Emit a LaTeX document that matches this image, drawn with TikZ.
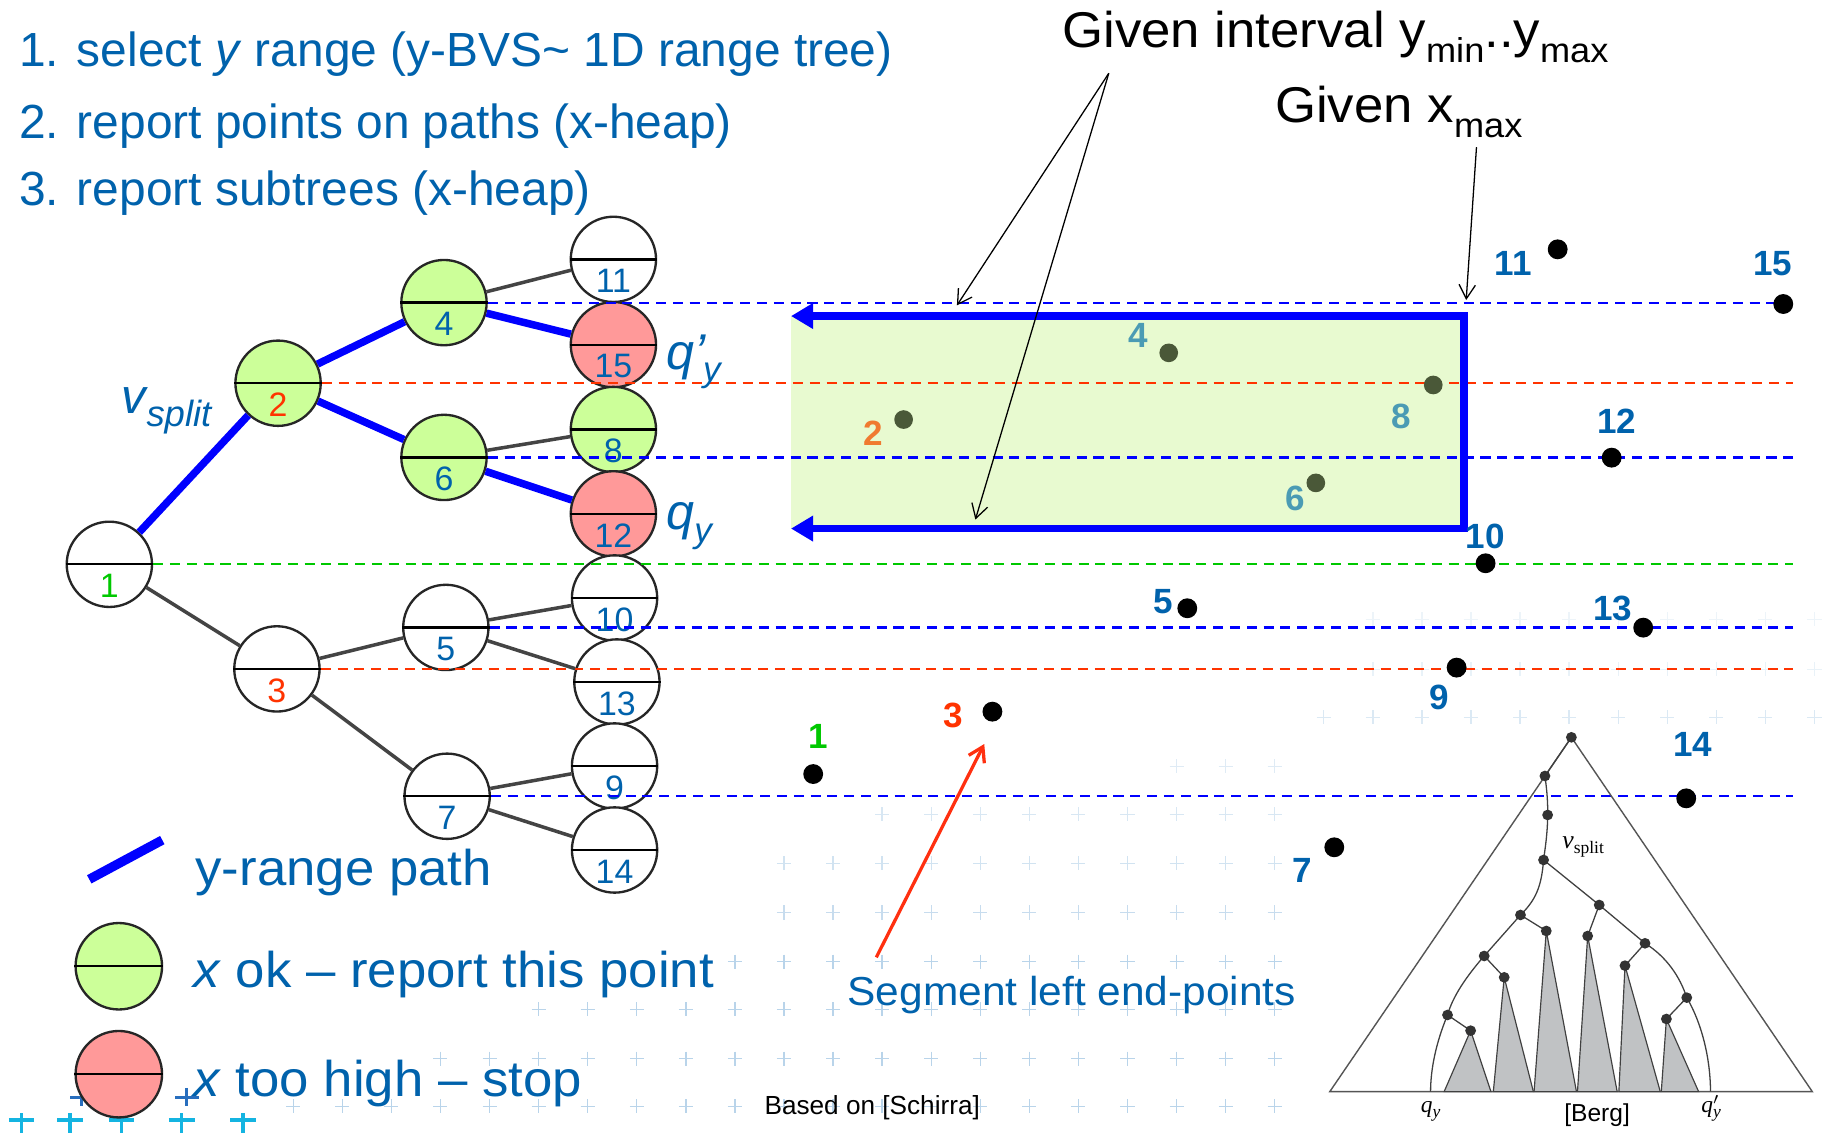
\documentclass[tikz,border=0pt]{standalone}
\usepackage{fontspec}
\setmainfont{Liberation Sans}
\newfontfamily\widesans[FakeStretch=1.05]{Liberation Sans}
\newfontfamily\bergserif{Liberation Serif}
\usetikzlibrary{arrows.meta}

\definecolor{txtblue}{RGB}{0,98,172}
\definecolor{pathblue}{RGB}{0,0,255}
\definecolor{okgreen}{RGB}{204,255,153}
\definecolor{stopred}{RGB}{255,153,153}
\definecolor{edgegray}{RGB}{68,68,68}
\definecolor{keyred}{RGB}{255,51,0}
\definecolor{keygreen}{RGB}{0,200,0}
\definecolor{boxfill}{RGB}{232,250,208}
\definecolor{olivedot}{RGB}{74,88,56}
\definecolor{ptteal}{RGB}{75,155,180}
\definecolor{ptorange}{RGB}{240,122,48}
\definecolor{arrred}{RGB}{255,48,16}
\definecolor{bergline}{RGB}{85,85,85}
\definecolor{bergfill}{RGB}{192,194,196}
\definecolor{wmark}{RGB}{185,212,234}
\definecolor{crosscyan}{RGB}{20,180,225}
\definecolor{crossblue}{RGB}{40,110,190}

% one tree node: name, x, y, fill, key, key colour
\newcommand\tnode[6]{%
  \node[treenode, fill=#4] (#1) at (#2,#3) {};
  \draw[line width=1pt] (#1.west) -- (#1.east);
  \node[numlabel, text=#6] (#1num) at ([yshift=-9.25pt]#1.center) {#5};
}
% one faint background cross
\newcommand\wmcross[3]{%
  \draw[wmark, line width=0.6pt, opacity=#3] (#1,#2) ++(-6,0) -- ++(12,0) ++(-6,-6) -- ++(0,12);
}

\begin{document}
\begin{tikzpicture}[x=0.5pt,y=-0.5pt,
  treenode/.style={circle, draw=black!85, line width=1pt, minimum size=36.5pt, inner sep=0pt},
  numlabel/.style={font=\fontsize{14.5}{16}\selectfont, inner sep=0pt},
  ptlabel/.style={font=\bfseries\fontsize{15}{17}\selectfont, text=txtblue, inner sep=0pt},
  dot/.style={circle, fill=black, minimum size=8.5pt, inner sep=0pt},
  boxdot/.style={circle, fill=olivedot, minimum size=8pt, inner sep=0pt},
  dashline/.style={line width=0.95pt, dash pattern=on 4.3pt off 2.9pt},
  grayedge/.style={draw=edgegray, line width=1.5pt},
  rangeedge/.style={draw=pathblue, line width=3.2pt},
  thinarrow/.style={draw=black, line width=0.55pt, -{Straight Barb[length=6pt,width=7pt]}},
  bigtext/.style={font=\widesans\fontsize{21.5}{24}\selectfont, inner sep=0pt, anchor=base west},
  steptext/.style={font=\fontsize{20.5}{24}\selectfont, text=txtblue, inner sep=0pt, anchor=base west},
  bergdot/.style={fill=black!80},
  bergtree/.style={fill=bergfill, draw=black!75, line width=0.5pt},
  bergedge/.style={draw=black!75, line width=0.55pt}
]
\useasboundingbox (0,0) rectangle (1568,969);
\clip (0,0) rectangle (1568,969);
\fill[white] (0,0) rectangle (1568,969);

% ---------- faint background crosses ----------
\foreach \yy/\xs/\op in {656/1007/0.45, 697/755/0.55, 739/671/0.65, 781/671/0.8,
                         823/629/1, 864/461/1, 906/377/1, 947/251/1} {
  \foreach \k in {0,...,20} {
    \pgfmathsetmacro\xx{1091-42*\k}
    \ifdim\xx pt<\xs pt\relax\else\wmcross{\xx}{\yy}{\op}\fi
  }
}
\foreach \xx in {1133,1175,...,1553} {\wmcross{\xx}{614}{0.5}}
\foreach \xx in {1175,1217,...,1553} {\wmcross{\xx}{573}{0.3}\wmcross{\xx}{530}{0.25}}

% cyan crosses along the lower left edge
\foreach \xx in {18.5,60,104,155.5,208} {
  \draw[crosscyan, line width=1.5pt] (\xx,958.6) ++(-11,0) -- ++(22,0) ++(-11,-6) -- ++(0,20);
}
\foreach \xx in {70,160} {
  \draw[crossblue, line width=1.3pt] (\xx,939) ++(-10,0) -- ++(20,0) ++(-10,-8) -- ++(0,16);
}

% ---------- query box ----------
\coordinate (boxTL) at (677,270.5);
\coordinate (boxTR) at (1253,270.5);
\coordinate (boxBR) at (1253,452.4);
\coordinate (boxBL) at (677,452.4);
\fill[boxfill] (boxTL) rectangle (boxBR);

% ---------- tree ----------
\tnode{n1}{93.6}{483}{white}{1}{keygreen}
\tnode{n2}{238}{328}{okgreen}{2}{keyred}
\tnode{n3}{237}{572.5}{white}{3}{keyred}
\tnode{n4}{380}{259}{okgreen}{4}{txtblue}
\tnode{n6}{380}{391.5}{okgreen}{6}{txtblue}
\tnode{n5}{381.6}{537}{white}{5}{txtblue}
\tnode{n7}{382.7}{681.5}{white}{7}{txtblue}
\tnode{n11}{525}{222}{white}{11}{txtblue}
\tnode{n15}{525}{295}{stopred}{15}{txtblue}
\tnode{n8}{525}{367.6}{okgreen}{8}{txtblue}
\tnode{n12}{525}{439.8}{stopred}{12}{txtblue}
\tnode{n10}{526}{511.8}{white}{10}{txtblue}
\tnode{n13}{528}{583.7}{white}{13}{txtblue}
\tnode{n9}{526}{655.6}{white}{9}{txtblue}
\tnode{n14}{526}{727.5}{white}{14}{txtblue}

% key lines running across the plane
\coordinate (dashend) at (1535,0);
\draw[dashline, pathblue] (n4.east) -- (n4.east -| dashend);
\draw[dashline, keyred] (n2.east) -- (n2.east -| dashend);
\draw[dashline, pathblue] (n6.east) -- (n6.east -| dashend);
\draw[dashline, keygreen] (n1.east) -- (n1.east -| dashend);
\draw[dashline, pathblue] (n5.east) -- (n5.east -| dashend);
\draw[dashline, keyred] (n3.east) -- (n3.east -| dashend);
\draw[dashline, pathblue] (n7.east) -- (n7.east -| dashend);

% tree edges
\draw[rangeedge] (n1) -- (n2);
\draw[rangeedge] (n2) -- (n4);
\draw[rangeedge] (n4) -- (n15);
\draw[rangeedge] (n2) -- (n6);
\draw[rangeedge] (n6) -- (n12);
\draw[grayedge] (n4) -- (n11);
\draw[grayedge] (n6) -- (n8);
\draw[grayedge] (n1) -- (n3);
\draw[grayedge] (n3) -- (n5);
\draw[grayedge] (n3) -- (n7);
\draw[grayedge] (n5) -- (n10);
\draw[grayedge] (n5) -- (n13);
\draw[grayedge] (n7) -- (n9);
\draw[grayedge] (n7) -- (n14);

\node[inner sep=0pt, anchor=base west, text=txtblue] (vsplit) at (104,353.7)
  {\fontsize{21}{24}\selectfont\itshape v\raisebox{-5.6pt}{\fontsize{15.6}{18}\selectfont split}};
\node[inner sep=0pt, anchor=base west, text=txtblue] (qyprime) at (570,316.3)
  {\fontsize{21.5}{24}\selectfont\itshape q’\kern-1pt\raisebox{-5pt}{\fontsize{15}{18}\selectfont y}};
\node[inner sep=0pt, anchor=base west, text=txtblue] (qy) at (570,453)
  {\fontsize{21.5}{24}\selectfont\itshape q\raisebox{-5.5pt}{\fontsize{15}{18}\selectfont y}};

% box outline with its open left side
\draw[pathblue, line width=3.3pt, line join=miter,
      {Triangle[length=9.5pt,width=10.5pt]}-{Triangle[length=9.5pt,width=10.5pt]}]
  (boxTL) -- (boxTR) -- (boxBR) -- (boxBL);

% ---------- points ----------
\node[boxdot] (p4) at (1000.3,302) {};
\node[boxdot] (p8) at (1226.7,329.5) {};
\node[boxdot] (p2) at (773.4,359.1) {};
\node[boxdot] (p6) at (1126.2,413.3) {};
\node[ptlabel, text=ptteal] (l4) at (974,287.3) {4};
\node[ptlabel, text=ptteal] (l8) at (1199.3,356) {8};
\node[ptlabel, text=ptorange] (l2) at (747,370.5) {2};
\node[ptlabel, text=ptteal] (l6) at (1108.6,426.4) {6};

\node[dot] (p11) at (1333.2,213.4) {};
\node[dot] (p15) at (1526.3,260.2) {};
\node[dot] (p12) at (1379.4,391.7) {};
\node[dot] (p10) at (1271.5,482.1) {};
\node[dot] (p5) at (1016.2,520.6) {};
\node[dot] (p13) at (1406.4,537.2) {};
\node[dot] (p9) at (1246.7,571.4) {};
\node[dot] (p3) at (849.4,609.1) {};
\node[dot] (p1) at (696,662.5) {};
\node[dot] (p14) at (1443.2,683.3) {};
\node[dot] (p7) at (1142,725.2) {};
\node[ptlabel] (l11) at (1295.2,225.4) {11};
\node[ptlabel] (l15) at (1517.2,225.4) {15};
\node[ptlabel] (l12) at (1383.7,360.3) {12};
\node[ptlabel] (l10) at (1271,459.3) {10};
\node[ptlabel] (l5) at (995.4,515) {5};
\node[ptlabel] (l13) at (1380.3,520.6) {13};
\node[ptlabel] (l9) at (1232,597) {9};
\node[ptlabel, text=keyred] (l3) at (816,612) {3};
\node[ptlabel, text=keygreen] (l1) at (700,630.5) {1};
\node[ptlabel] (l14) at (1449,636.8) {14};
\node[ptlabel] (l7) at (1114.4,745.2) {7};

% ---------- texts ----------
\node[steptext] (s1) at (16,57) {1. select \textit{y} range (y-BVS\textasciitilde{} 1D range tree)};
\node[steptext] (s2) at (16,118.5) {2. report points on paths (x-heap)};
\node[steptext] (s3) at (16,175.5) {3. report subtrees (x-heap)};

\node[bigtext] (yrange) at (909,41)
  {Given interval y\raisebox{-6.25pt}{\fontsize{14.75}{16}\selectfont min}..y\raisebox{-6.25pt}{\fontsize{14.75}{16}\selectfont max}};
\node[bigtext] (xmax) at (1091,105)
  {Given x\raisebox{-6.25pt}{\fontsize{14.75}{16}\selectfont max}};

\coordinate (gA) at (949,62.7);
\coordinate (gT1) at (819,261.4);
\coordinate (gT2) at (834.8,444.7);
\coordinate (xA) at (1263.7,126);
\coordinate (xT) at (1254.9,256.8);
\draw[thinarrow] (gA) -- (gT1);
\draw[thinarrow] (gA) -- (gT2);
\draw[thinarrow] (xA) -- (xT);

\node[inner sep=0pt, anchor=base west, text=txtblue, font=\widesans\fontsize{17.3}{20}\selectfont]
  (seglabel) at (725,861) {Segment left end-points};
\coordinate (segA) at (750,819.4);
\coordinate (segT) at (842.4,636.8);
\draw[arrred, line width=1.4pt, -{Straight Barb[length=6pt,width=7.5pt]}] (segA) -- (segT);

\node[inner sep=0pt, anchor=base west, font=\fontsize{11.2}{13}\selectfont] (schirra) at (654,954)
  {Based on [Schirra]};

% ---------- legend ----------
\coordinate (lgA) at (76.4,752.6);
\coordinate (lgB) at (138.9,719);
\draw[pathblue, line width=4pt] (lgA) -- (lgB);
\node[bigtext, text=txtblue] (lgpath) at (167,757.5) {y-range path};
\node[treenode, fill=okgreen, minimum size=37pt] (lgok) at (101.7,827) {};
\draw[line width=1pt] (lgok.west) -- (lgok.east);
\node[bigtext, text=txtblue] (lgoktext) at (165,845) {\textit{x} ok – report this point};
\node[treenode, fill=stopred, minimum size=37pt] (lgstop) at (101.7,919.4) {};
\draw[line width=1pt] (lgstop.west) -- (lgstop.east);
\node[bigtext, text=txtblue] (lgstoptext) at (165,938.6) {\textit{x} too high – stop};

% ---------- reference sketch of the query tree ----------
\begin{scope}[shift={(1112.6,599.1)}, xscale=0.2904, yscale=0.2853]
  \coordinate (bA) at (800,112);
  \coordinate (bB) at (722,228);
  \coordinate (bC) at (730,345);
  \coordinate (bD) at (718,480);
  \coordinate (bE) at (650,645);
  \coordinate (bF) at (882,615);
  \coordinate (bG) at (726,693);
  \coordinate (bH) at (543,768);
  \coordinate (bI) at (848,708);
  \coordinate (bJ) at (1017,730);
  \coordinate (bK) at (602,832);
  \coordinate (bL) at (435,945);
  \coordinate (bM) at (958,797);
  \coordinate (bN) at (1140,893);
  \coordinate (bO) at (503,992);
  \coordinate (bP) at (1080,957);
  \coordinate (bQ) at (385,1175);
  \coordinate (bQp) at (1210,1175);
  \coordinate (bLeft) at (88,1175);
  \coordinate (bRight) at (1510,1175);

  \draw[draw=bergline, line width=0.6pt] (bA) -- (bLeft) -- (bRight) -- cycle;

  \filldraw[bergtree] (bO) -- (425,1175) -- (563,1175) -- cycle;
  \filldraw[bergtree] (bK) -- (570,1175) -- (688,1175) -- cycle;
  \filldraw[bergtree] (bG) -- (690,1175) -- (815,1175) -- cycle;
  \filldraw[bergtree] (bI) -- (818,1175) -- (935,1175) -- cycle;
  \filldraw[bergtree] (bM) -- (940,1175) -- (1062,1175) -- cycle;
  \filldraw[bergtree] (bP) -- (1065,1175) -- (1175,1175) -- cycle;

  \draw[bergedge] (bA) -- (bB);
  \draw[bergedge] (bB) .. controls (728,270) and (731,310) .. (bC);
  \draw[bergedge] (bC) .. controls (730,400) and (722,450) .. (bD);
  \draw[bergedge] (bD) .. controls (712,560) and (695,600) .. (bE);
  \draw[bergedge] (bD) -- (bF);
  \draw[bergedge] (bE) -- (bG);
  \draw[bergedge] (bE) -- (bH);
  \draw[bergedge] (bF) -- (bI);
  \draw[bergedge] (bF) -- (bJ);
  \draw[bergedge] (bH) -- (bK);
  \draw[bergedge] (bH) .. controls (490,830) and (450,890) .. (bL);
  \draw[bergedge] (bL) -- (bO);
  \draw[bergedge] (bL) .. controls (400,1030) and (385,1110) .. (bQ);
  \draw[bergedge] (bJ) -- (bM);
  \draw[bergedge] (bJ) .. controls (1080,770) and (1120,830) .. (bN);
  \draw[bergedge] (bN) -- (bP);
  \draw[bergedge] (bN) .. controls (1190,980) and (1210,1090) .. (bQp);

  \foreach \p in {bA,bB,bC,bD,bE,bF,bG,bH,bI,bJ,bK,bL,bM,bN,bO,bP} {
    \fill[bergdot] (\p) circle (16);
  }

  \node[inner sep=0pt, anchor=base west] (bvsplit) at (772,445)
    {\bergserif\fontsize{11}{12}\selectfont\itshape v\raisebox{-2.3pt}{\fontsize{7.5}{8}\selectfont\upshape split}};
  \node[inner sep=0pt, anchor=base] (bqy) at (385,1238)
    {\bergserif\fontsize{10}{12}\selectfont\itshape q\raisebox{-2.2pt}{\fontsize{7.5}{8}\selectfont y}};
  \node[inner sep=0pt, anchor=base] (bqyp) at (1212,1238)
    {\bergserif\fontsize{10}{12}\selectfont\itshape q\rlap{\raisebox{3.5pt}{\fontsize{7.5}{8}\selectfont$\prime$}}\raisebox{-2.2pt}{\fontsize{7.5}{8}\selectfont y}};
  \node[inner sep=0pt, anchor=base west, font=\fontsize{10.5}{12}\selectfont] (berg) at (778,1265) {[Berg]};
\end{scope}
\end{tikzpicture}
\end{document}
